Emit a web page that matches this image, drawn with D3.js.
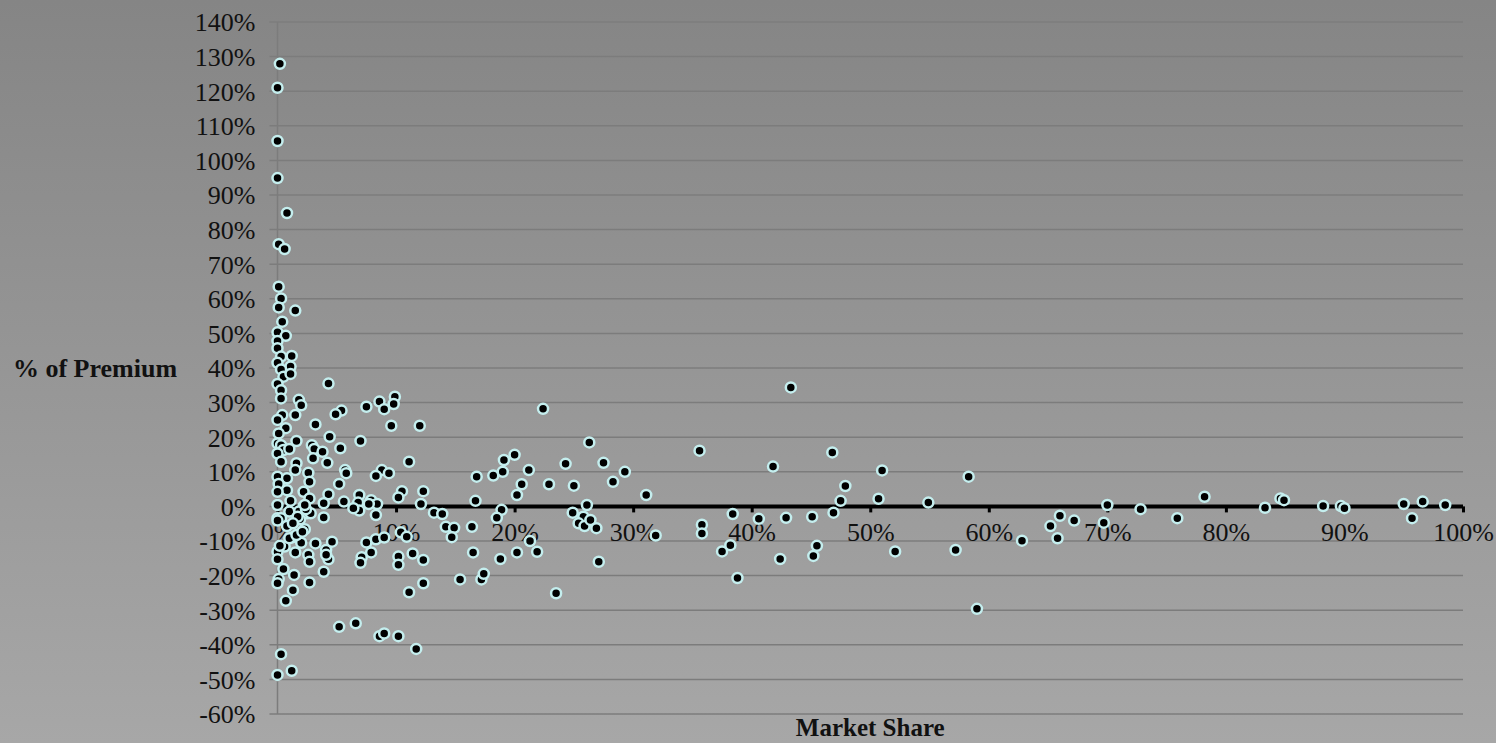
<!DOCTYPE html>
<html>
<head>
<meta charset="utf-8">
<script src="https://cdn.jsdelivr.net/npm/d3@7"></script>
<style>
  html, body { margin: 0; padding: 0; background: #969696; }
  svg { display: block; }
  text { font-family: "Liberation Serif", "Times New Roman", serif; fill: #111; }
</style>
</head>
<body>
<svg id="chart" width="1496" height="743"></svg>
<script>
// Market share of each company (%), paired with its result as % of premium
const marketShare = [
  0.2, 0.0, 0.0, 0.0, 0.8, 0.1, 0.6, 0.1, 0.3, 0.1, 1.5, 0.4, 0.0, 0.7, 0.0, 0.0, 0.3, 1.2, 0.0, 1.1,
  0.3, 0.5, 1.1, 0.0, 0.3, 4.3, 0.3, 1.8, 2.0, 1.5, 5.4, 4.9, 0.4, 3.2, 0.0, 0.7, 0.1, 4.4, 0.0, 1.6,
  0.3, 2.9, 3.1, 5.3, 0.5, 1.0, 3.8, 0.0, 3.0, 0.3, 4.2, 1.6, 5.7, 5.8, 0.0, 2.6, 0.8, 1.5, 2.7, 5.2,
  0.1, 0.8, 2.2, 0.0, 4.3, 2.7, 1.1, 0.0, 3.9, 5.6, 2.2, 1.8, 1.0, 2.5, 0.0, 0.3, 3.9,
  7.5, 8.6, 9.0, 9.9, 9.8, 9.6, 12.0, 7.0, 11.1, 8.8, 8.3, 9.4, 16.8, 18.2, 10.5, 10.2, 12.3, 6.9, 6.8, 7.9,
  8.4, 6.9, 6.4, 7.7, 8.3, 12.1, 16.7, 13.2, 13.9,
  14.2, 14.9, 14.7, 16.4, 16.5, 7.5, 8.3, 9.0, 10.4, 10.9, 7.9, 7.1, 7.0, 10.2, 10.2, 11.4, 12.3, 12.3, 11.1, 15.4,
  17.2, 17.4, 6.6, 5.2, 8.6, 9.0, 10.2, 11.7,
  0.0, 0.8, 1.9, 2.3, 1.3, 0.6, 0.0, 1.5, 2.0, 3.2, 2.6, 2.7, 4.1, 4.6, 4.3, 3.9, 0.0, 0.5, 0.1, 1.4,
  2.7, 1.3, 0.7, 0.3, 1.2, 0.0,
  0.0, 0.2, 1.0, 1.6, 2.1, 1.7, 2.8, 2.4, 2.3, 1.3, 4.1,
  22.4, 26.3, 20.0, 19.1, 19.0, 21.2, 24.3, 27.5, 29.3, 28.3, 20.6, 22.9, 25.0, 20.2, 31.1, 26.1, 18.9, 18.5, 24.9, 25.8,
  25.4, 25.9, 26.4, 26.9, 35.6, 35.8, 35.8, 31.9, 21.3, 20.2, 21.9, 18.8, 27.1, 23.5,
  43.3, 46.8, 41.8, 51.0, 58.3, 47.9, 50.7, 47.5, 54.9, 38.4, 40.6, 42.9, 45.1, 46.9, 37.5, 38.2, 42.4, 45.5, 45.2, 52.1,
  57.2, 38.8, 59.0,
  62.8, 65.2, 66.0, 65.8, 67.2, 70.0, 69.7,
  72.8, 75.9, 78.2, 83.3, 84.6, 84.9, 88.2, 89.7, 90.0, 95.0, 95.7, 96.6, 98.5
];

const premiumPct = [
  127.9, 121.0, 105.6, 94.9, 84.8, 75.8, 74.4, 63.5, 60.1, 57.5, 56.6, 53.4, 50.3, 49.3, 47.8, 45.7, 43.3, 43.5, 41.5, 40.4,
  39.6, 37.5, 38.3, 35.4, 33.6, 35.5, 31.2, 30.8, 29.2, 26.4, 27.7, 26.6, 26.4, 23.7, 25.0, 22.6, 21.1, 20.1, 18.2, 18.9,
  17.7, 17.7, 16.6, 16.8, 16.3, 16.6, 15.8, 15.3, 13.9, 12.9, 12.6, 12.5, 10.5, 9.6, 8.6, 9.7, 8.1, 10.5, 7.1, 6.5,
  6.5, 4.7, 4.2, 4.2, 3.5, 2.3, 1.6, 0.4, 0.9, 1.4, 0.0, -1.5, -1.5, -2.0, -3.4, -3.4, -3.2,
  28.8, 30.3, 28.1, 31.7, 29.6, 23.3, 23.3, 18.9, 12.9, 10.5, 8.8, 9.6, 8.6, 8.9, 4.4, 2.6, 4.4, 3.3, 1.1, 1.8,
  0.7, -1.2, -0.5, 0.7, -2.5, 0.7, 1.6, -1.8, -2.2,
  -5.9, -6.2, -8.9, -5.9, -13.3, -10.4, -9.5, -9.0, -7.5, -8.8, -13.3, -14.7, -16.3, -14.5, -16.9, -13.6, -15.5, -22.2, -24.8, -21.1,
  -21.1, -19.5, -33.8, -34.8, -37.5, -36.7, -37.5, -41.2,
  -4.1, -5.7, -3.7, -6.6, -8.9, -11.6, -13.1, -13.3, -10.5, -10.7, -14.0, -16.0, -12.6, -10.2, -15.3, -18.9, -15.3, -18.1, -21.0, -19.8,
  -22.0, -24.2, -27.3, -42.7, -47.5, -48.7,
  -22.2, -11.4, -9.2, -8.3, -7.3, -3.0, -2.0, -0.8, 0.4, -4.9, -14.0,
  28.2, 18.5, 14.9, 13.4, 10.0, 10.5, 12.3, 12.6, 10.0, 7.1, 6.4, 6.4, 6.0, 3.3, 3.3, 0.4, -1.0, -3.3, -1.8, -3.0,
  -4.9, -5.7, -3.9, -6.3, 16.1, -5.3, -7.8, -8.4, -10.0, -13.3, -13.1, -15.2, -16.0, -25.1,
  34.4, 15.6, 11.5, 10.4, 8.6, 5.9, 2.2, 1.6, 1.1, -2.2, -3.6, -3.3, -3.0, -1.8, -13.0, -11.2, -15.2, -11.4, -14.3, -13.0,
  -12.6, -20.7, -29.6,
  -9.9, -5.7, -2.7, -9.2, -4.1, 0.4, -4.7,
  -0.8, -3.4, 2.8, -0.4, 2.3, 1.8, 0.1, 0.1, -0.5, 0.7, -3.4, 1.4, 0.4
];

// Axis ticks (%)
const xTicks = [0, 10, 20, 30, 40, 50, 60, 70, 80, 90, 100];
const yTicks = [-60, -50, -40, -30, -20, -10, 0, 10, 20, 30, 40, 50, 60, 70, 80, 90, 100, 110, 120, 130, 140];

const xTitle = "Market Share";
const yTitle = "% of Premium";

const W = 1496, H = 743;
const svg = d3.select("#chart");

// Background: soft vertical grey gradient
const defs = svg.append("defs");
const grad = defs.append("linearGradient")
  .attr("id", "bg").attr("x1", 0).attr("y1", 0).attr("x2", 0).attr("y2", 1);
grad.append("stop").attr("offset", "0%").attr("stop-color", "#858585");
grad.append("stop").attr("offset", "100%").attr("stop-color", "#a7a7a7");
svg.append("rect").attr("width", W).attr("height", H).attr("fill", "url(#bg)");

const x = d3.scaleLinear().domain([0, 100]).range([277.5, 1463]);
const y = d3.scaleLinear().domain([-60, 140]).range([714, 22]);

// Horizontal gridlines, with short outward ticks on the value axis
const grid = svg.append("g");
grid.selectAll("line").data(yTicks).join("line")
  .attr("x1", x(0) - 8).attr("x2", x(100))
  .attr("y1", d => y(d)).attr("y2", d => y(d))
  .attr("stroke", "#7c7c7c").attr("stroke-width", 1.5);

// Value axis line
svg.append("line")
  .attr("x1", x(0)).attr("x2", x(0))
  .attr("y1", y(140)).attr("y2", y(-60))
  .attr("stroke", "#7c7c7c").attr("stroke-width", 1.5);

// Value axis labels
const yAxis = d3.axisLeft(y).tickValues(yTicks).tickSize(0).tickPadding(0)
  .tickFormat(d => d + "%");
const gy = svg.append("g").attr("transform", `translate(${x(0) - 22},0)`).call(yAxis);
gy.select(".domain").remove();
gy.selectAll("text")
  .attr("font-family", "'Liberation Serif', 'Times New Roman', serif")
  .attr("font-size", 26).attr("fill", "#111").attr("dy", "0.34em");

// Category axis drawn along the zero line
const xAxis = d3.axisBottom(x).tickValues(xTicks).tickSize(6).tickPadding(10)
  .tickFormat(d => d + "%");
const gx = svg.append("g").attr("transform", `translate(0,${y(0)})`).call(xAxis);
gx.select(".domain").attr("stroke", "#000").attr("stroke-width", 4)
  .attr("d", `M${x(0)},0H${x(100)}`);
gx.selectAll(".tick line").attr("stroke", "#000").attr("stroke-width", 3);
gx.selectAll("text")
  .attr("font-family", "'Liberation Serif', 'Times New Roman', serif")
  .attr("font-size", 26).attr("fill", "#111");

// Points
const pts = d3.zip(marketShare, premiumPct);
svg.append("g").selectAll("circle").data(pts).join("circle")
  .attr("cx", d => x(d[0]))
  .attr("cy", d => y(d[1]))
  .attr("r", 5)
  .attr("fill", "#000")
  .attr("stroke", "#c4eeee")
  .attr("stroke-width", 2.5);

// Axis titles
svg.append("text")
  .attr("x", 95).attr("y", y(40)).attr("dy", "0.34em")
  .attr("text-anchor", "middle")
  .attr("font-size", 26).attr("font-weight", "bold")
  .text(yTitle);

svg.append("text")
  .attr("x", (x(0) + x(100)) / 2).attr("y", 736)
  .attr("text-anchor", "middle")
  .attr("font-size", 25).attr("font-weight", "bold")
  .text(xTitle);
</script>
</body>
</html>
